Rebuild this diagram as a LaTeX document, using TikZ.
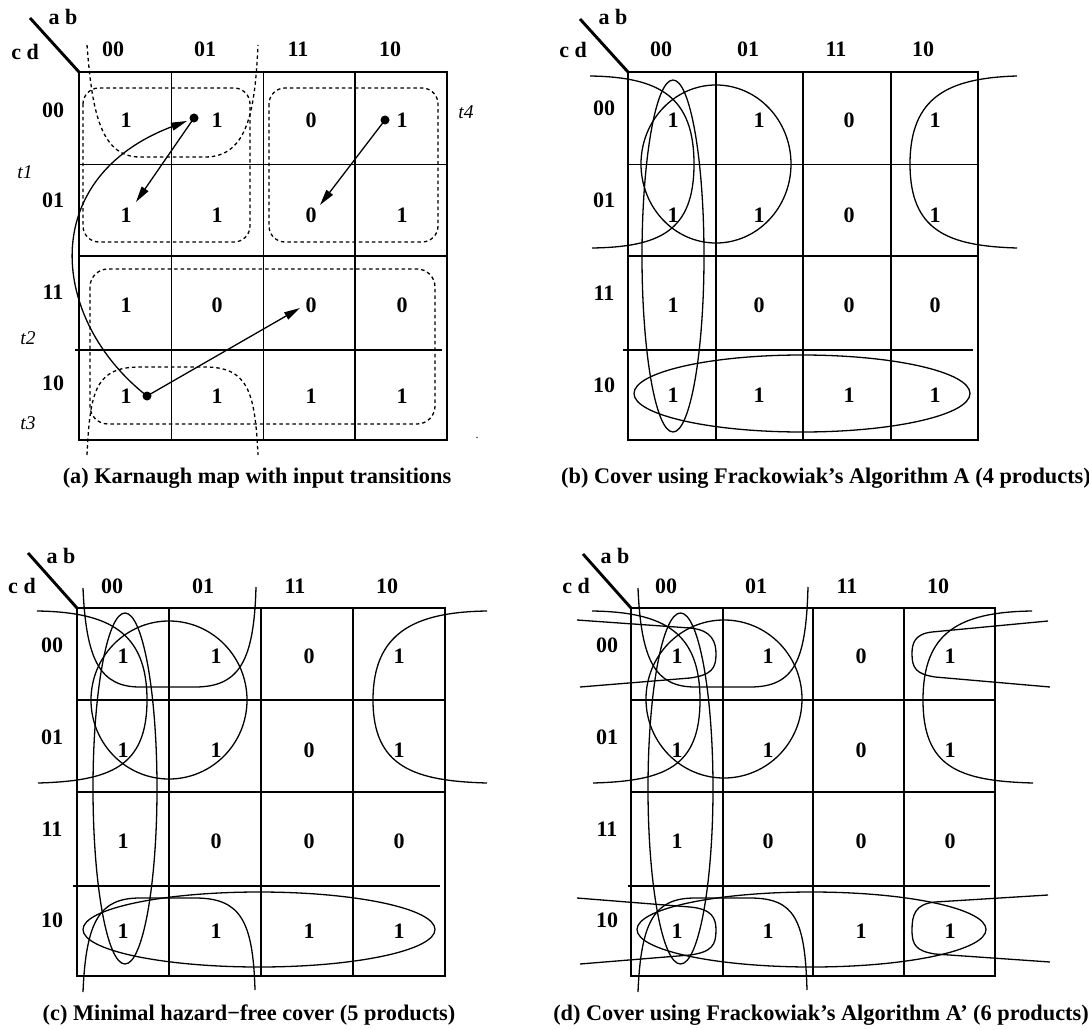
\documentclass[tikz,border=0pt]{standalone}
\usepackage{fontspec}
\setmainfont{Liberation Serif}
\usetikzlibrary{arrows.meta}
\newcommand\labf{\fontsize{22}{22}\selectfont\bfseries}
\newcommand\capf{\fontsize{22.3}{22.3}\selectfont\bfseries}
\newcommand\tlf{\fontsize{19.5}{19.5}\selectfont\itshape}
\newcommand\kvalues[3]{%
  \foreach \yy [count=\r] in {#3}{%
    \foreach \xx [count=\c] in {#2}{%
      \pgfmathtruncatemacro\idx{(\r-1)*4+\c-1}%
      \pgfmathtruncatemacro\vv{{1,1,0,1,1,1,0,1,1,0,0,0,1,1,1,1}[\idx]}%
      \node[lab] (#1-\r-\c) at (\xx,\yy) {\vv};
    }}}
\newcommand\klabels[9]{% prefix, xs, ys(col labels y), rowx, rowys, ab, cd
  \foreach \xx [count=\c] in {#2}{%
    \pgfmathsetmacro\tt{{"00","01","11","10"}[\c-1]}%
    \node[lab] (#1-col\c) at (\xx,#3) {\tt};}
  \foreach \yy [count=\r] in {#5}{%
    \pgfmathsetmacro\tt{{"00","01","11","10"}[\r-1]}%
    \node[lab] (#1-row\r) at (#4,\yy) {\tt};}
  \node[lab] (#1-ab) at #6 {a b};
  \node[lab] (#1-cd) at #7 {c d};
  \draw[border] #8 -- #9;}
\begin{document}
\begin{tikzpicture}[x=1pt,y=-1pt,
  border/.style={line width=2.9pt},
  gridl/.style={line width=1.3pt},
  cover/.style={line width=1.3pt},
  dsh/.style={line width=1.3pt, dash pattern=on 3.5pt off 3pt},
  lab/.style={font=\labf, inner sep=0pt},
  capt/.style={font=\capf, inner sep=0pt},
  tlab/.style={font=\tlf, inner sep=0pt},
  arr/.style={line width=1.3pt, -{Triangle[length=16pt,width=8pt]}},
  dotn/.style={circle, fill=black, inner sep=0pt, minimum size=9pt}]
\useasboundingbox (0,0) rectangle (1089,1030);

% ================= (a) =================
\draw[gridl] (171.7,72) -- (171.7,440) (263.3,72) -- (263.3,440) (355,72) -- (355,440);
\draw[gridl] (79,164.5) -- (447,164.5) (79,256) -- (447,256) (75,350) -- (442,350);
\draw[border] (79,72) rectangle (447,440);
\klabels{a}{113,205,298,390}{49}{53}{110,200,292,383}{(63,17)}{(25,52)}{(30,18)}{(79,72)}
\kvalues{a}{126,217,311,402}{120,215,305,396}
\node[tlab] (t1) at (25,172) {t1};
\node[tlab] (t4) at (466,112) {t4};
\node[tlab] (t2) at (28,338) {t2};
\node[tlab] (t3) at (28,423) {t3};
\node[inner sep=0pt, font=\fontsize{12}{12}\selectfont] (adot) at (477,438) {.};
% dashed covers
\draw[dsh, rounded corners=16pt] (83,88) rectangle (250,242);
\draw[dsh, rounded corners=16pt] (269,88) rectangle (438,242);
\draw[dsh, rounded corners=18pt] (90,269) rectangle (435,424);
\draw[dsh] (87,45) .. controls (92,110) and (100,157) .. (140,157) -- (205,157)
   .. controls (248,157) and (255,110) .. (258,45);
\draw[dsh] (87,455) .. controls (90,390) and (96,367) .. (140,367) -- (205,367)
   .. controls (248,367) and (255,392) .. (258,455);
% transitions
\node[dotn] (d1) at (194,118) {};
\node[dotn] (d2) at (385,120) {};
\node[dotn] (d3) at (147,396) {};
\coordinate (e1) at (136,202);
\coordinate (e2) at (320,205);
\coordinate (e3) at (300,308);
\coordinate (e4) at (187,121);
\draw[arr] (d1.center) -- (e1);
\draw[arr] (d2.center) -- (e2);
\draw[arr] (d3.center) -- (e3);
\draw[arr] (d3.center) .. controls (50,320) and (36,178) .. (e4);
\node[capt] (capa) at (257,478) {(a) Karnaugh map with input transitions};

% ================= (b) =================
\draw[gridl] (716,72) -- (716,440) (803,72) -- (803,440) (891,72) -- (891,440);
\draw[gridl] (628,164.5) -- (978,164.5) (628,256) -- (978,256) (623,350) -- (973,350);
\draw[border] (628,72) rectangle (978,440);
\klabels{b}{661,748,836,923}{49}{604}{108,200,293,385}{(613,17)}{(573,50)}{(580,19)}{(628,72)}
\kvalues{b}{673,759,849,935}{120,215,305,395}
\draw[cover] (716,164) ellipse [x radius=75pt, y radius=79pt];
\draw[cover] (673,256) ellipse [x radius=31pt, y radius=176pt];
\draw[cover] (802,393.5) ellipse [x radius=168pt, y radius=38.5pt];
\draw[cover] (590,76) .. controls (660,77) and (694,97) .. (694,164)
   .. controls (694,231) and (660,247) .. (592,248);
\draw[cover] (1017,76) .. controls (948,78) and (910,97) .. (910,164)
   .. controls (910,231) and (948,246) .. (1017,248);
\node[capt] (capb) at (826,478) {(b) Cover using Frackowiak’s Algorithm A (4 products)};

% ================= (c) =================
\draw[gridl] (169,608) -- (169,976) (261,608) -- (261,976) (353,608) -- (353,976);
\draw[gridl] (77,700) -- (445,700) (77,792) -- (445,792) (73,886) -- (440,886);
\draw[border] (77,608) rectangle (445,976);
\klabels{c}{112,203,295,387}{586}{52}{645,737,829,920}{(61,556)}{(22,586)}{(28,553)}{(77,608)}
\kvalues{c}{123,216,309,399}{656,750,841,931}
\draw[cover] (169,700) ellipse [x radius=78pt, y radius=79pt];
\draw[cover] (125,788.5) ellipse [x radius=32pt, y radius=175.5pt];
\draw[cover] (259,929.5) ellipse [x radius=176pt, y radius=37.5pt];
\draw[cover] (37,611) .. controls (110,612) and (147,633) .. (147,700)
   .. controls (147,767) and (110,781) .. (38,783);
\draw[cover] (487,611) .. controls (414,612) and (373,633) .. (373,700)
   .. controls (373,767) and (414,781) .. (487,783);
\draw[cover] (83,588) .. controls (86,660) and (100,687) .. (140,687) -- (195,687)
   .. controls (240,687) and (254,660) .. (256,587);
\draw[cover] (83,992) .. controls (86,920) and (100,898) .. (140,898) -- (195,898)
   .. controls (240,898) and (253,920) .. (255,990);
\node[capt] (capc) at (249,1015) {(c) Minimal hazard−free cover (5 products)};

% ================= (d) =================
\draw[gridl] (723,608) -- (723,976) (813,608) -- (813,976) (904,608) -- (904,976);
\draw[gridl] (631,700) -- (995,700) (631,792) -- (995,792) (628,886) -- (990,886);
\draw[border] (631,608) rectangle (995,976);
\klabels{d}{666,756,847,938}{586}{607}{645,737,829,920}{(615,556)}{(576,586)}{(583,554)}{(631,608)}
\kvalues{d}{677,768,861,950}{656,750,841,931}
\draw[cover] (724,699) ellipse [x radius=78pt, y radius=79pt];
\draw[cover] (680.5,788.5) ellipse [x radius=32.5pt, y radius=175.5pt];
\draw[cover] (811.5,929.5) ellipse [x radius=174.5pt, y radius=37.5pt];
\draw[cover] (592,611) .. controls (665,612) and (700,633) .. (700,700)
   .. controls (700,767) and (665,781) .. (593,783);
\draw[cover] (1032,611) .. controls (958,612) and (923,633) .. (923,700)
   .. controls (923,767) and (958,781) .. (1033,783);
\draw[cover] (638,588) .. controls (641,660) and (655,687) .. (695,687) -- (750,687)
   .. controls (795,687) and (806,660) .. (808,587);
\draw[cover] (638,992) .. controls (641,920) and (655,898) .. (695,898) -- (750,898)
   .. controls (795,898) and (805,920) .. (807,990);
\draw[cover] (577,620) -- (690,628) .. controls (712,630) and (716,642) .. (716,654)
   .. controls (716,668) and (712,675) .. (690,678) -- (580,687);
\draw[cover] (1048,621) -- (932,632) .. controls (914,634) and (912,644) .. (912,654)
   .. controls (912,668) and (916,674) .. (935,677) -- (1050,687);
\draw[cover] (577,898) -- (690,907) .. controls (712,909) and (716,918) .. (716,930)
   .. controls (716,945) and (712,952) .. (690,955) -- (580,964);
\draw[cover] (1048,895) -- (935,902) .. controls (915,904) and (912,915) .. (912,930)
   .. controls (912,945) and (916,951) .. (935,954) -- (1050,962);
\node[capt] (capd) at (821,1015) {(d) Cover using Frackowiak’s Algorithm A’ (6 products)};
\end{tikzpicture}
\end{document}
